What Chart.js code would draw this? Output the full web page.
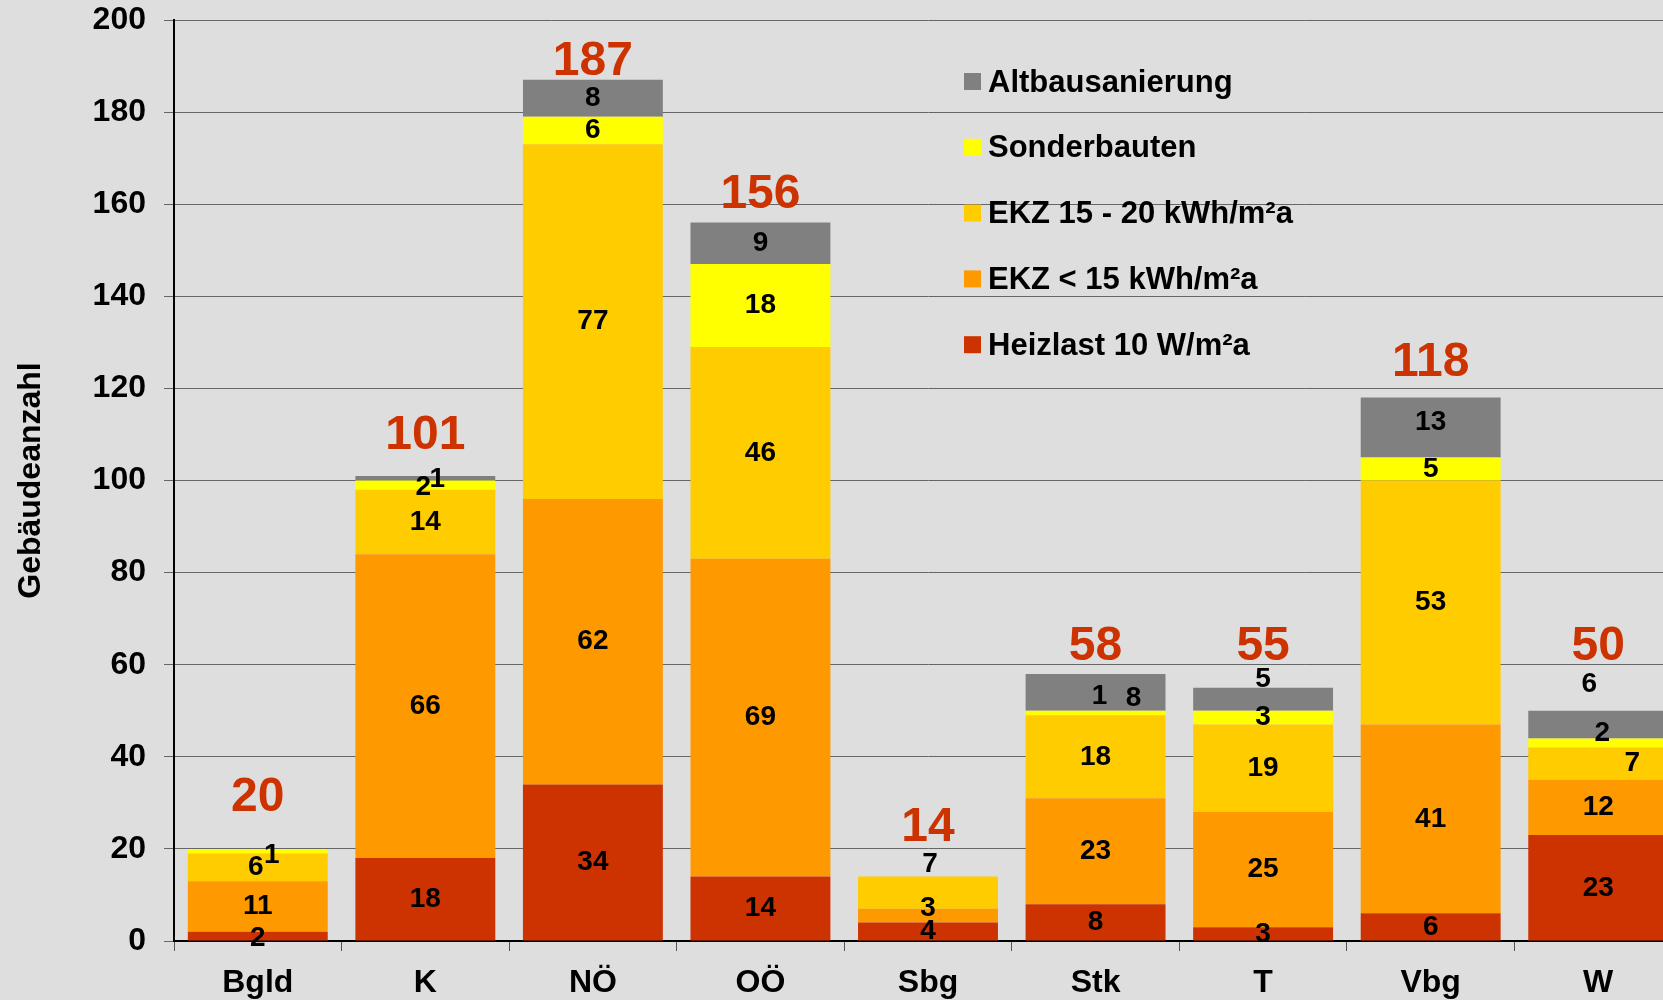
<!DOCTYPE html>
<html>
<head>
<meta charset="utf-8">
<script src="https://cdn.jsdelivr.net/npm/chart.js@4/dist/chart.umd.min.js"></script>
<style>
    html, body { margin: 0; padding: 0; background: #dedede; overflow: hidden; }
    #wrap { width: 1663px; height: 1000px; overflow: hidden; }
</style>
</head>
<body>
<div id="wrap"><canvas id="gebaeude" width="1682" height="1000"></canvas></div>
<script>
// Bundeslaender
var bundeslaender = ['Bgld', 'K', 'NÖ', 'OÖ', 'Sbg', 'Stk', 'T', 'Vbg', 'W'];

// Gebaeudeanzahl je Kategorie (von unten nach oben gestapelt)
var heizlast     = [2, 18, 34, 14, 4, 8, 3, 6, 23];
var ekzUnter15   = [11, 66, 62, 69, 3, 23, 25, 41, 12];
var ekz15bis20   = [6, 14, 77, 46, 7, 18, 19, 53, 7];
var sonderbauten = [1, 2, 6, 18, 0, 1, 3, 5, 2];
var altbau       = [0, 1, 8, 9, 0, 8, 5, 13, 6];

var yMax = 200;
var yStep = 20;

// verschobene Beschriftungen, [dataset][land] -> [dx, dy] in px
var labelNudge = {
    '0-0': [0, 2],
    '2-0': [-2, 0],
    '3-0': [14, 4],
    '3-1': [-2, 2],
    '4-1': [12, 1],
    '1-4': [0, -7],
    '2-4': [2, -28],
    '3-5': [4, -17],
    '4-5': [38, 6],
    '4-6': [0, -20],
    '4-7': [0, -5],
    '2-8': [34, 0],
    '3-8': [4, -10],
    '4-8': [-9, -40]
};
// Abstand Summe -> Balkenoberkante
var totalLift = [38, 27, 5, 15, 36, 14, 28, 22, 51];

var font = "'Liberation Sans', Arial, sans-serif";

var segmentLabels = {
    id: 'segmentLabels',
    afterDatasetsDraw: function(chart){
        var ctx = chart.ctx;
        ctx.save();
        ctx.textAlign = 'center';
        ctx.textBaseline = 'middle';
        ctx.fillStyle = '#000';
        ctx.font = 'bold 28px ' + font;
        chart.data.datasets.forEach(function(ds, di){
            var meta = chart.getDatasetMeta(di);
            meta.data.forEach(function(bar, i){
                if(!ds.data[i]) return;
                var n = labelNudge[di + '-' + i] || [0, 0];
                ctx.fillText(ds.data[i], bar.x + n[0], (bar.y + bar.base) / 2 + n[1]);
            });
        });

        // Summen
        ctx.textBaseline = 'alphabetic';
        ctx.fillStyle = '#cc3300';
        ctx.font = 'bold 48px ' + font;
        var yScale = chart.scales.y;
        var lastMeta = chart.getDatasetMeta(0);
        bundeslaender.forEach(function(b, i){
            var total = 0;
            chart.data.datasets.forEach(function(ds){ total += ds.data[i]; });
            var x = lastMeta.data[i].x;
            ctx.fillText(total, x, yScale.getPixelForValue(total) - totalLift[i]);
        });
        ctx.restore();
    }
};

var innerLegend = {
    id: 'innerLegend',
    afterDraw: function(chart){
        var ctx = chart.ctx;
        ctx.save();
        ctx.font = 'bold 31px ' + font;
        ctx.textBaseline = 'middle';
        ctx.textAlign = 'left';
        var items = chart.data.datasets.slice().reverse();
        items.forEach(function(ds, k){
            var y = 82 + k * 65.8;
            ctx.fillStyle = ds.backgroundColor;
            ctx.fillRect(964, y - 9, 17, 17);
            ctx.fillStyle = '#000';
            ctx.fillText(ds.label, 988, y + 1);
        });
        ctx.restore();
    }
};

var ctxG = document.getElementById('gebaeude').getContext('2d');

var gebaeudeChart = new Chart(ctxG, {
    type: 'bar',
    data: {
        labels: bundeslaender,
        datasets: [{
            label: 'Heizlast 10 W/m²a',
            backgroundColor: '#cc3300',
            data: heizlast
        },{
            label: 'EKZ < 15 kWh/m²a',
            backgroundColor: '#ff9900',
            data: ekzUnter15
        },{
            label: 'EKZ 15 - 20 kWh/m²a',
            backgroundColor: '#ffcc00',
            data: ekz15bis20
        },{
            label: 'Sonderbauten',
            backgroundColor: '#ffff00',
            data: sonderbauten
        },{
            label: 'Altbausanierung',
            backgroundColor: '#808080',
            data: altbau
        }]
    },
    options: {
        responsive: false,
        animation: false,
        devicePixelRatio: 1,
        layout: { padding: { top: 0, left: 0, right: 0, bottom: 0 } },
        datasets: { bar: { barPercentage: 0.835, categoryPercentage: 1, borderWidth: 0 } },
        plugins: {
            legend: { display: false },
            tooltip: { enabled: false }
        },
        scales: {
            x: {
                stacked: true,
                afterFit: function(scale){ scale.height = 59; },
                grid: {
                    offset: true,
                    drawOnChartArea: false,
                    drawTicks: true,
                    tickLength: 10,
                    color: '#555'
                },
                border: { display: true, color: '#000', width: 2 },
                ticks: {
                    color: '#000',
                    padding: 13,
                    font: { family: font, size: 32, weight: 'bold' }
                }
            },
            y: {
                stacked: true,
                min: 0,
                max: yMax,
                afterFit: function(scale){
                    scale.width = 174;
                    scale.paddingTop = 20;
                    scale.paddingBottom = 0;
                },
                grid: {
                    color: '#666',
                    lineWidth: 1,
                    tickLength: 10
                },
                border: { display: true, color: '#000', width: 2 },
                ticks: {
                    stepSize: yStep,
                    color: '#000',
                    padding: 18,
                    font: { family: font, size: 32, weight: 'bold' }
                },
                title: {
                    display: true,
                    text: 'Gebäudeanzahl',
                    color: '#000',
                    padding: { top: 12, bottom: 0 },
                    font: { family: font, size: 32, weight: 'bold' }
                }
            }
        }
    },
    plugins: [segmentLabels, innerLegend]
});
</script>
</body>
</html>
